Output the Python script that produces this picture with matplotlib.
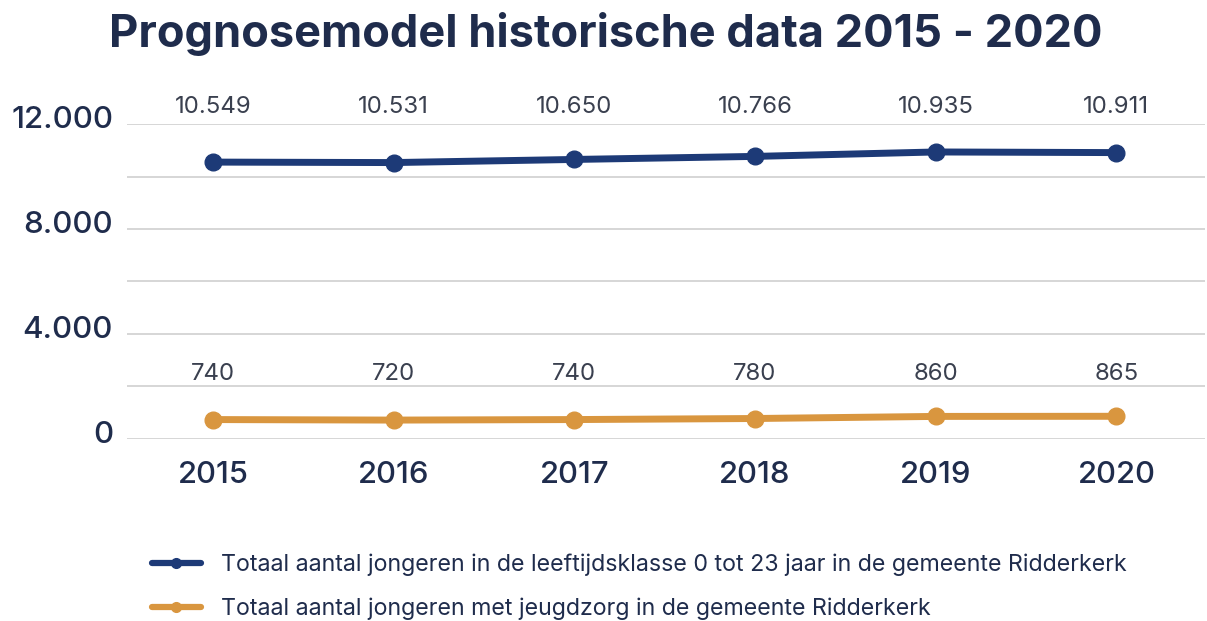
import matplotlib
matplotlib.use("Agg")
import matplotlib.pyplot as plt
from matplotlib.lines import Line2D
from matplotlib.transforms import offset_copy

years = ["2015", "2016", "2017", "2018", "2019", "2020"]
totaal_jongeren = [10549, 10531, 10650, 10766, 10935, 10911]
jongeren_jeugdzorg = [740, 720, 740, 780, 860, 865]
label_totaal = "Totaal aantal jongeren in de leeftijdsklasse 0 tot 23 jaar in de gemeente Ridderkerk"
label_jeugdzorg = "Totaal aantal jongeren met jeugdzorg in de gemeente Ridderkerk"
y_ticks = [0, 4000, 8000, 12000]
y_ticklabels = ["0", "4.000", "8.000", "12.000"]
grid_values = [0, 2000, 4000, 6000, 8000, 10000, 12000]
title = "Prognosemodel historische data 2015 - 2020"

FONT = "Inter"
plt.rcParams["font.family"] = [FONT, "DejaVu Sans"]

NAVY = "#1d3a77"
ORANGE = "#d9963f"
TEXT = "#1f2c4c"
LABEL = "#3a404f"
GRID = "#d3d3d3"

fig = plt.figure(figsize=(12.07, 6.21), dpi=100)
ax = fig.add_axes([0.1052, 0.2931, 0.8931, 0.5072])

x = list(range(len(years)))
ax.plot(x, totaal_jongeren, color=NAVY, lw=5, marker="o", ms=12, solid_capstyle="round", zorder=3)
ax.plot(x, jongeren_jeugdzorg, color=ORANGE, lw=5, marker="o", ms=12, solid_capstyle="round", zorder=3)

for xi, v in zip(x, totaal_jongeren):
    ax.text(xi, 12650, f"{v:,}".replace(",", "."), ha="center", va="center",
            fontsize=17.3, color=LABEL, fontweight="normal", clip_on=False)
for xi, v in zip(x, jongeren_jeugdzorg):
    ax.text(xi, 2480, f"{v:,}".replace(",", "."), ha="center", va="center",
            fontsize=17.3, color=LABEL, fontweight="normal", clip_on=False)

for g in grid_values:
    ax.axhline(g, color=GRID, lw=1.3, zorder=1)

ax.set_xlim(-0.476, 5.49)
ax.set_ylim(0, 12000)
ax.set_xticks(x)
ax.set_xticklabels(years, fontsize=22.3, color=TEXT, fontweight="medium")
ax.set_yticks(y_ticks)
ax.set_yticklabels(y_ticklabels, fontsize=22.5, color=TEXT, fontweight="medium")
ax.tick_params(axis="both", length=0)
ax.tick_params(axis="x", pad=16)
ax.tick_params(axis="y", pad=10)
for lab in ax.get_yticklabels():
    lab.set_transform(offset_copy(lab.get_transform(), fig=fig, x=0, y=7, units="dots"))
for s in ax.spines.values():
    s.set_visible(False)

fig.text(0.502, 0.945, title, ha="center", va="center", fontsize=32.5,
         fontweight="bold", color=TEXT)

handles = [
    Line2D([], [], color=NAVY, lw=4.5, marker="o", ms=7, solid_capstyle="round"),
    Line2D([], [], color=ORANGE, lw=4.5, marker="o", ms=7, solid_capstyle="round"),
]
fig.legend(handles, [label_totaal, label_jeugdzorg], loc="upper left",
           bbox_to_anchor=(0.126, 0.109), frameon=False, fontsize=16.7,
           labelcolor=TEXT, handlelength=2.1, handletextpad=0.85,
           labelspacing=0.92, borderaxespad=0, borderpad=0)

fig.savefig("out.png", dpi=100, facecolor="white")
